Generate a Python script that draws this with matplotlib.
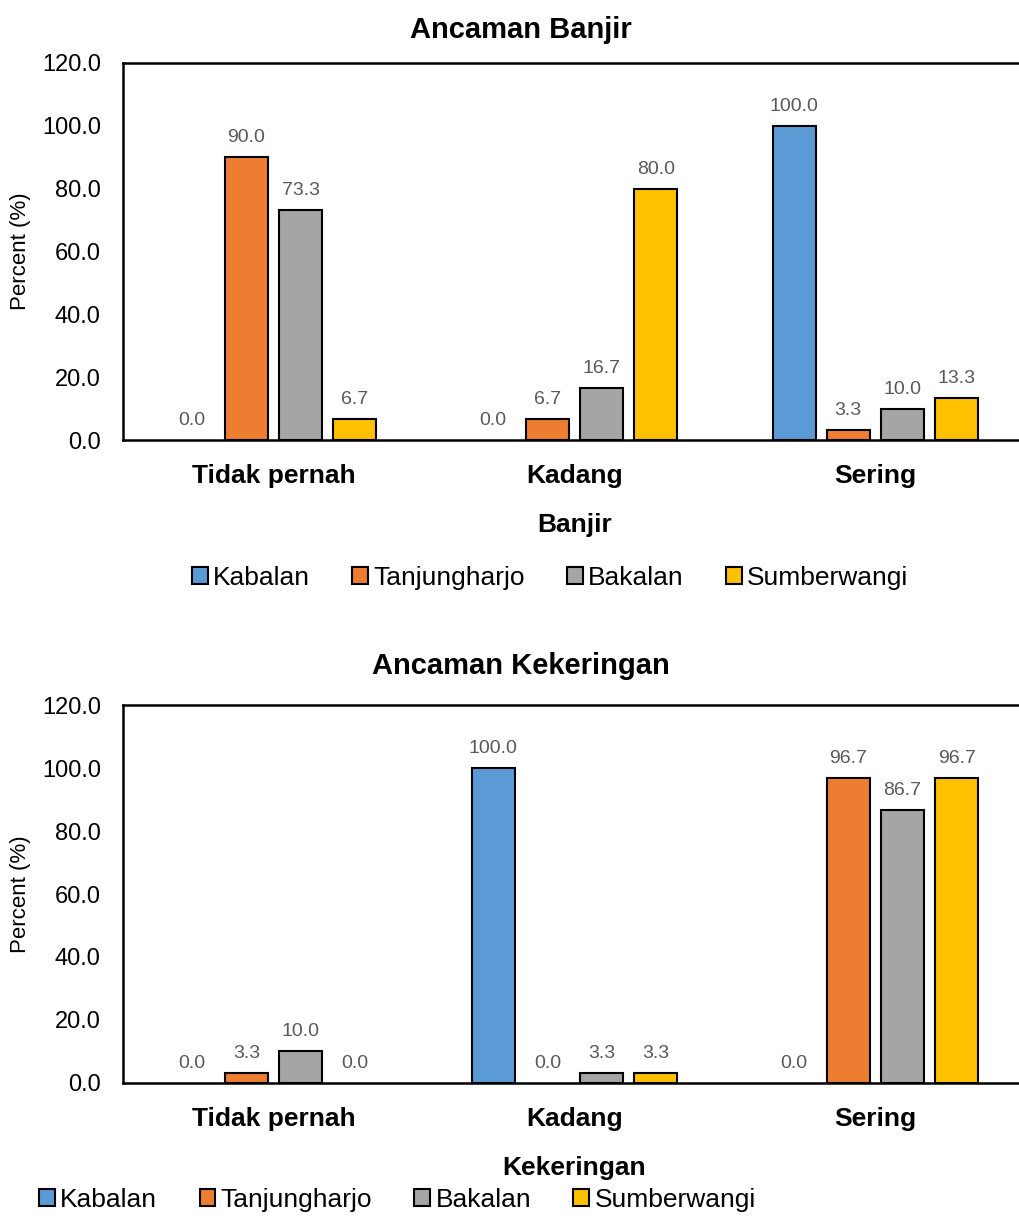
import matplotlib.pyplot as plt
import numpy as np

plt.rcParams['font.family'] = ['Liberation Sans', 'DejaVu Sans']

# Data
categories = ['Tidak pernah', 'Kadang', 'Sering']
villages = ['Kabalan', 'Tanjungharjo', 'Bakalan', 'Sumberwangi']
colors = ['#5B9BD5', '#ED7D31', '#A5A5A5', '#FFC000']

banjir = {
    'Kabalan': [0.0, 0.0, 100.0],
    'Tanjungharjo': [90.0, 6.7, 3.3],
    'Bakalan': [73.3, 16.7, 10.0],
    'Sumberwangi': [6.7, 80.0, 13.3],
}
kekeringan = {
    'Kabalan': [0.0, 100.0, 0.0],
    'Tanjungharjo': [3.3, 0.0, 96.7],
    'Bakalan': [10.0, 3.3, 86.7],
    'Sumberwangi': [0.0, 3.3, 96.7],
}

fig = plt.figure(figsize=(10.19, 12.23), dpi=100)

# axes boxes in figure fractions
ax1 = fig.add_axes([0.1207, 0.6402, 0.886, 0.3083])
ax2 = fig.add_axes([0.1207, 0.1145, 0.886, 0.3090])

pitch = 0.18
width = 0.143
x = np.arange(len(categories))


def draw(ax, data, title, xlabel, title_y, legend_x, legend_y):
    handles = []
    for i, v in enumerate(villages):
        pos = x + (i - 1.5) * pitch
        # zero bars get no outline, like in the source
        lws = [1.5 if val > 0 else 0 for val in data[v]]
        bars = ax.bar(pos, data[v], width, color=colors[i], edgecolor='black',
                      linewidth=lws, zorder=3)
        for b, val in zip(bars, data[v]):
            ax.text(b.get_x() + b.get_width() / 2, val + 3.5, f'{val:.1f}',
                    ha='center', va='bottom', fontsize=14, color='#595959')
        handles.append(plt.Rectangle((0, 0), 1, 1, facecolor=colors[i],
                                     edgecolor='black', linewidth=1.5))
    ax.set_ylim(0, 120)
    ax.set_xlim(-0.5, 2.5)
    ax.set_yticks(np.arange(0, 121, 20))
    ax.set_yticklabels([f'{t:.1f}' for t in np.arange(0, 121, 20)], fontsize=17)
    ax.set_xticks(x)
    ax.set_xticklabels(categories, fontsize=19, fontweight='bold')
    ax.tick_params(axis='y', length=0, pad=16)
    ax.tick_params(axis='x', length=0, pad=17)
    for s in ['top', 'left', 'bottom', 'right']:
        ax.spines[s].set_linewidth(1.8)
        ax.spines[s].set_color('black')
    ax.set_ylabel('Percent (%)', fontsize=16, labelpad=8)
    ax.set_xlabel(xlabel, fontsize=19, fontweight='bold', labelpad=18)
    fig.text(0.511, title_y, title, ha='center', va='center', fontsize=21,
             fontweight='bold')
    fig.legend(handles=handles, labels=villages, loc='center',
               bbox_to_anchor=(legend_x, legend_y), ncol=4, frameon=False,
               fontsize=19, handlelength=0.6, handleheight=0.6,
               handletextpad=0.2, columnspacing=1.6)


draw(ax1, banjir, 'Ancaman Banjir', 'Banjir', 1 - 30 / 1223, 0.54, 1 - 578 / 1223)
draw(ax2, kekeringan, 'Ancaman Kekeringan', 'Kekeringan', 1 - 666 / 1223, 0.39, 1 - 1200 / 1223)

fig.savefig('out.png', dpi=100)
